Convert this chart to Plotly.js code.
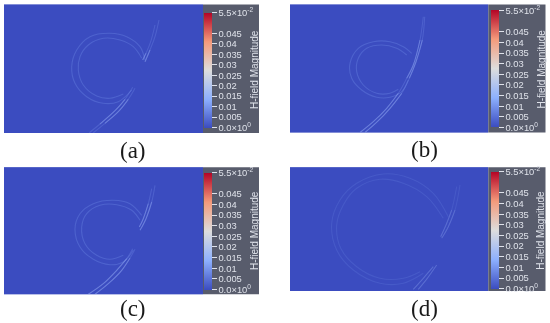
<!DOCTYPE html>
<html><head><meta charset="utf-8">
<script src="https://cdn.plot.ly/plotly-3.0.1.min.js"></script>
<style>html,body{margin:0;padding:0;background:#fff}#c{width:550px;height:323px;filter:blur(0.35px)}
#c .scatterlayer{filter:blur(0.5px)}</style>
</head><body><div id="c"></div>
<script>
// Colour bar ticks
const tickValues = [0,0.005,0.01,0.015,0.02,0.025,0.03,0.035,0.04,0.045,0.055];
const tickLabels = ['0.0×10<sup>0</sup>','0.005','0.01','0.015','0.02','0.025','0.03','0.035','0.04','0.045','5.5×10<sup>-2</sup>'];
const panelNames = ['(a)','(b)','(c)','(d)'];
const barTitle = 'H-field Magnitude';

// Curves, as [x...],[y...] (field coordinates)
const aLoopX=[145,140,126.7,110,90,76.7,71.7,75,86.7,103.3,118.3,131.7];
const aLoopY=[60,46.7,36.7,33.3,36.7,50,66.7,83.3,96.7,103.3,101.7,90];
const aInnerX=[141.7,133.3,120,103.3,88.3,80,78.3,83.3,96.7,110,123.3];
const aInnerY=[58.3,46.7,40,38.3,45,56.7,70,85,96,98.3,94];
const aTail1X=[89.3,100,115,125,132.7];
const aTail1Y=[132.7,124,110.7,99.3,87.3];
const aTail2X=[93.3,105,118.3,128.3,135];
const aTail2Y=[132.7,123.3,111.7,99.3,88.3];
const aUp1X=[159,155,150,145];
const aUp1Y=[20,36.7,50,61.7];
const aUp2X=[155,150.7,146,142.7];
const aUp2Y=[25,41.7,53.3,60];

const bLoopX=[411.7,403.3,390,373.3,358.3,350,351.7,361.7,376.7,390,401.7,408.3];
const bLoopY=[53.3,46.7,41.7,41.7,48.3,63.3,78.3,90,97.3,97.3,91.7,80];
const bInnerX=[406.7,396.7,381.7,366.7,358.3,356.7,363.3,376.7,390,398.3];
const bInnerY=[55,48.3,45,48.3,58.3,71.7,85,93.3,93.3,89.3];
const bTail1X=[360,373.3,386.7,398.3,406.7,413.3,420,423.3];
const bTail1Y=[132.5,121.7,108.3,93.3,78.3,65,40,16.7];
const bTail2X=[365,377.3,390,401.7,409.3,416,422.3,424.7];
const bTail2Y=[132.5,121.7,108.3,93.3,78.3,61.7,40,16.7];

const cLoopX=[141.7,130,113.3,93.3,80,75,80,93.3,110,123.3,133.3];
const cLoopY=[215.3,203.7,200.3,203.7,213.7,228.7,247,259.3,264.7,262,250.3];
const cInnerX=[140,131.7,116.7,100,86.7,81.7,85,96.7,110,123.3];
const cInnerY=[220.3,210.3,204.7,205.3,213.7,227,243.7,255.3,259.3,255.3];
const cTail1X=[88.3,103.3,116.7,126.7,132.7];
const cTail1Y=[294.3,283.7,270.3,258.7,248.7];
const cTail2X=[95,108.3,121.7,130,135];
const cTail2Y=[294.3,283.7,270.3,258,249.3];
const cUp1X=[155,151.7,146,140];
const cUp1Y=[185.3,202,218.7,230.3];
const cUp2X=[151.7,148.3,143.3,139.3];
const cUp2Y=[188.7,203.7,218.7,227];

const dLoopX=[448.3,433.3,410,383.3,356.7,340,331.7,336.7,353.3,380,403.3,423.3];
const dLoopY=[216.7,193.3,178.3,174,183.3,200,223.3,250,270,283.3,283.3,273.3];
const dInnerX=[443.3,426.7,403.3,380,356.7,343.3,336.7,340.7,356.7,380,403.3,420];
const dInnerY=[218.3,196.7,183.3,179.3,188.3,205,225,248.3,266.7,278.3,278.3,271.7];
const dTail1X=[413.3,423.3,433.3];
const dTail1Y=[289.3,278.3,266.7];
const dTail2X=[418.3,427.3,436.7];
const dTail2Y=[289.3,278.3,265];
const dUp1X=[460,455,448.3,441.7];
const dUp1Y=[185,210,226.7,238.3];
const dUp2X=[456.7,451.7,446,440.7];
const dUp2Y=[186.7,210,225,236.7];

// Panel layout (pixels of the 550x323 picture)
const W=550,H=323;
const panels=[
 {f:[4,203,4.5,133],g:259,bar:[12.5,127.5],bx:204.3,cap:[132.7,150],
  loops:[[aLoopX,aLoopY],[aInnerX,aInnerY]],tails:[[aTail1X,aTail1Y],[aTail2X,aTail2Y],[aUp1X,aUp1Y],[aUp2X,aUp2Y]],
  hot:[[aTail1X,aTail1Y,1,3],[aTail2X,aTail2Y,1,3],[aUp1X,aUp1Y,2,3],[aUp2X,aUp2Y,2,3]]},
 {f:[290,488.3,4.5,132.5],g:545.5,bar:[10.7,127.3],bx:490.5,cap:[424,149],
  loops:[[bLoopX,bLoopY],[bInnerX,bInnerY]],tails:[[bTail1X,bTail1Y],[bTail2X,bTail2Y]],
  hot:[[bTail1X,bTail1Y,0,3],[bTail2X,bTail2Y,0,3],[bTail1X,bTail1Y,4,6],[bTail2X,bTail2Y,4,6]]},
 {f:[4,203,167.3,294.3],g:259,bar:[172.7,289.3],bx:204.3,cap:[132.7,308],
  loops:[[cLoopX,cLoopY],[cInnerX,cInnerY]],tails:[[cTail1X,cTail1Y],[cTail2X,cTail2Y],[cUp1X,cUp1Y],[cUp2X,cUp2Y]],
  hot:[[cTail1X,cTail1Y,0,3],[cTail2X,cTail2Y,0,3],[cUp1X,cUp1Y,1,3],[cUp2X,cUp2Y,1,3]]},
 {f:[290,488.3,167.3,291],g:545.5,bar:[171.7,288.7],bx:490.5,cap:[424,308],
  loops:[[dLoopX,dLoopY],[dInnerX,dInnerY]],tails:[[dTail1X,dTail1Y],[dTail2X,dTail2Y],[dUp1X,dUp1Y],[dUp2X,dUp2Y]],
  hot:[[dTail1X,dTail1Y,0,2],[dTail2X,dTail2Y,0,2],[dUp1X,dUp1Y,1,3],[dUp2X,dUp2Y,1,3]]}
];
const coolWarm=[[0,'#3b4cc0'],[0.25,'#8db0fe'],[0.5,'#dddddd'],[0.75,'#f49a7b'],[1,'#b40426']];
const txt='#dfe2ea', gray='#585c6c';

const traces=[],shapes=[],annotations=[];
const layout={width:W,height:H,margin:{l:0,r:0,t:0,b:0},paper_bgcolor:'#fff',plot_bgcolor:'#3b4cc0',showlegend:false};

panels.forEach((p,i)=>{
  const n=i===0?'':String(i+1), xa='x'+n, ya='y'+n;
  const [x0,x1,y0,y1]=p.f;
  layout['xaxis'+n]={domain:[x0/W,x1/W],range:[x0,x1],visible:false,fixedrange:true,anchor:ya};
  layout['yaxis'+n]={domain:[1-y1/H,1-y0/H],range:[y1,y0],visible:false,fixedrange:true,anchor:xa};
  traces.push({type:'heatmap',xaxis:xa,yaxis:ya,x:[x0,x1],y:[y0,y1],z:[[0]],zmin:0,zmax:0.055,
    colorscale:coolWarm,hoverinfo:'skip',showscale:true,
    colorbar:{thickness:8,thicknessmode:'pixels',lenmode:'pixels',len:p.bar[1]-p.bar[0],
      x:p.bx/W,xanchor:'left',xref:'paper',xpad:0,ypad:0,yref:'paper',
      y:1-(p.bar[0]+p.bar[1])/2/H,yanchor:'middle',outlinewidth:0,borderwidth:0,
      tickmode:'array',tickvals:tickValues,ticktext:tickLabels,ticks:'outside',ticklen:5,tickwidth:1,
      tickcolor:txt,tickfont:{family:'Liberation Sans',size:9.4,color:txt}}});
  const curve=(x,y,w,col)=>traces.push({type:'scatter',mode:'lines',xaxis:xa,yaxis:ya,x,y,
    line:{shape:'spline',smoothing:1,width:w,color:col},hoverinfo:'skip'});
  const fade=i===3?0.6:1;
  p.loops.forEach(c=>{curve(c[0],c[1],1.1,`rgba(140,170,250,${0.24*fade})`);});
  p.tails.forEach(c=>{curve(c[0],c[1],1.1,`rgba(140,170,250,${0.22*fade})`);});
  p.hot.forEach(c=>{curve(c[0].slice(c[2],c[3]+1),c[1].slice(c[2],c[3]+1),1.1,`rgba(175,200,255,${0.3*fade})`);});
  shapes.push({type:'rect',xref:'paper',yref:'paper',x0:x1/W,x1:p.g/W,y0:1-y1/H,y1:1-y0/H,
    fillcolor:gray,line:{width:0},layer:'below'});
  annotations.push({xref:'paper',yref:'paper',x:(p.g-5)/W,y:1-(p.bar[0]+p.bar[1])/2/H,text:barTitle,
    textangle:-90,showarrow:false,xanchor:'center',yanchor:'middle',
    font:{family:'Liberation Sans',size:10,color:txt}});
  annotations.push({xref:'paper',yref:'paper',x:p.cap[0]/W,y:1-p.cap[1]/H,text:panelNames[i],
    showarrow:false,xanchor:'center',yanchor:'middle',
    font:{family:'Liberation Serif',size:23,color:'#1a1a1a'}});
});
layout.shapes=shapes;layout.annotations=annotations;
Plotly.newPlot('c',traces,layout,{displayModeBar:false,staticPlot:true});
</script></body></html>
